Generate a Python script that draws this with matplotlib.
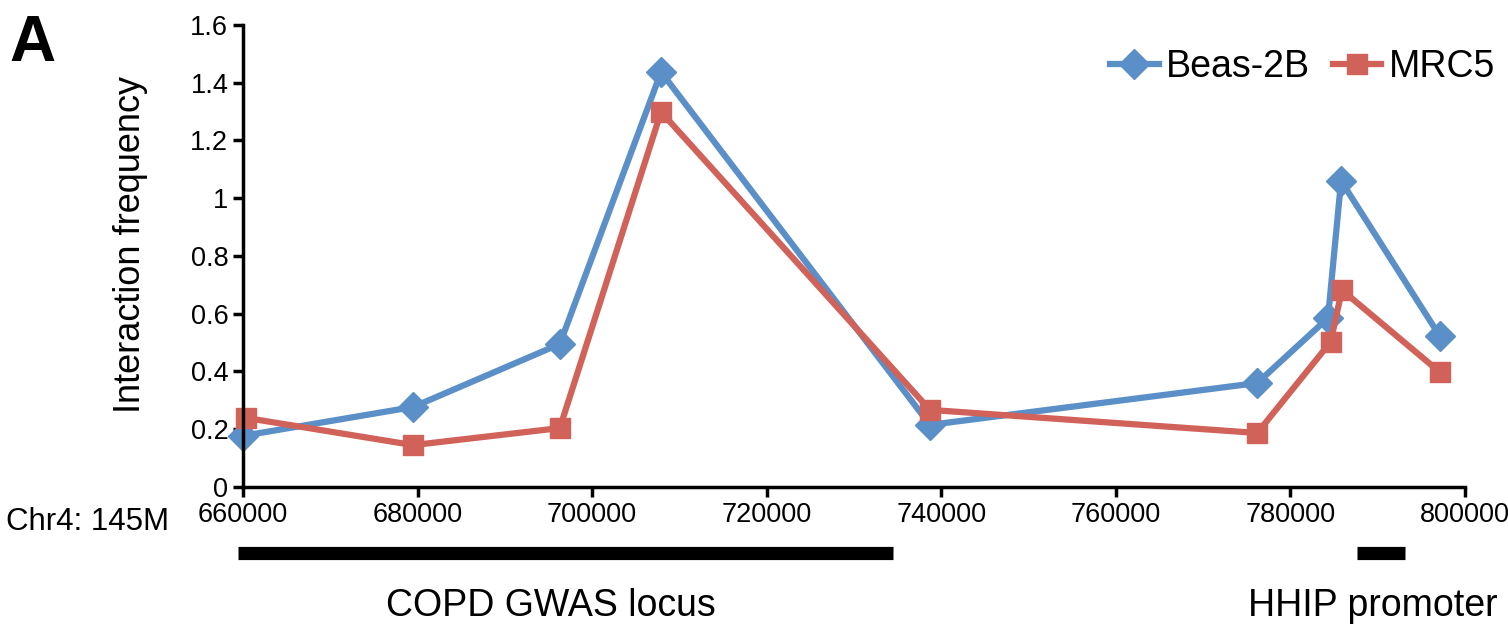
import matplotlib.pyplot as plt
from matplotlib.ticker import FuncFormatter

plt.rcParams['font.family'] = ['Liberation Sans', 'DejaVu Sans']

# positions on chr4 (offset from 145M) and interaction frequencies
beas_x = [660000, 679500, 696300, 707900, 738700, 776200, 784300, 785800, 797100]
beas_y = [0.177, 0.277, 0.495, 1.437, 0.215, 0.360, 0.585, 1.060, 0.523]

mrc5_x = [660400, 679500, 696300, 707900, 738700, 776200, 784600, 785900, 797100]
mrc5_y = [0.239, 0.145, 0.204, 1.299, 0.267, 0.187, 0.502, 0.682, 0.398]

# genomic regions drawn under the axis
copd_span = (659400, 734500)
hhip_span = (787600, 793100)

blue = '#5A8FC8'
red = '#D0625A'

fig = plt.figure(figsize=(15.08, 6.29), dpi=100)
ax = fig.add_axes([0.1611, 0.2258, 0.8104, 0.7345])

ax.plot(beas_x, beas_y, color=blue, lw=4.5, marker='D', ms=15, label='Beas-2B', clip_on=False)
ax.plot(mrc5_x, mrc5_y, color=red, lw=4.5, marker='s', ms=14, label='MRC5', clip_on=False)

ax.set_xlim(660000, 800000)
ax.set_ylim(0, 1.6)
ax.set_xticks(range(660000, 800001, 20000))
ax.set_yticks([0, 0.2, 0.4, 0.6, 0.8, 1.0, 1.2, 1.4, 1.6])
ax.yaxis.set_major_formatter(FuncFormatter(lambda v, p: f'{v:g}'))
ax.xaxis.set_major_formatter(FuncFormatter(lambda v, p: f'{int(v)}'))
ax.tick_params(labelsize=19.5, width=2.5, length=7, direction='out', colors='black')
for s in ['top', 'right']:
    ax.spines[s].set_visible(False)
for s in ['left', 'bottom']:
    ax.spines[s].set_linewidth(2.5)

ax.set_ylabel('Interaction frequency', fontsize=26)
ax.yaxis.set_label_coords(-0.078, 0.525)

ax.legend(loc='upper right', bbox_to_anchor=(1.014, 0.975), bbox_transform=fig.transFigure,
          ncol=2, frameon=False, fontsize=27, handlelength=1.3, handletextpad=0.2,
          columnspacing=0.6)

# region bars below the axis
trans = ax.get_xaxis_transform()
ax.hlines([-0.143, -0.143], [copd_span[0], hhip_span[0]], [copd_span[1], hhip_span[1]],
          colors='black', lw=9.5, transform=trans, clip_on=False)

fig.text(0.004, 0.17, 'Chr4: 145M', fontsize=22.5, va='center', ha='left')
fig.text(0.365, 0.037, 'COPD GWAS locus', fontsize=27, ha='center', va='center')
fig.text(0.993, 0.037, 'HHIP promoter', fontsize=27, ha='right', va='center')
fig.text(0.006, 0.93, 'A', fontsize=46, fontweight='bold', va='center', ha='left')

fig.savefig('out.png', dpi=100)
